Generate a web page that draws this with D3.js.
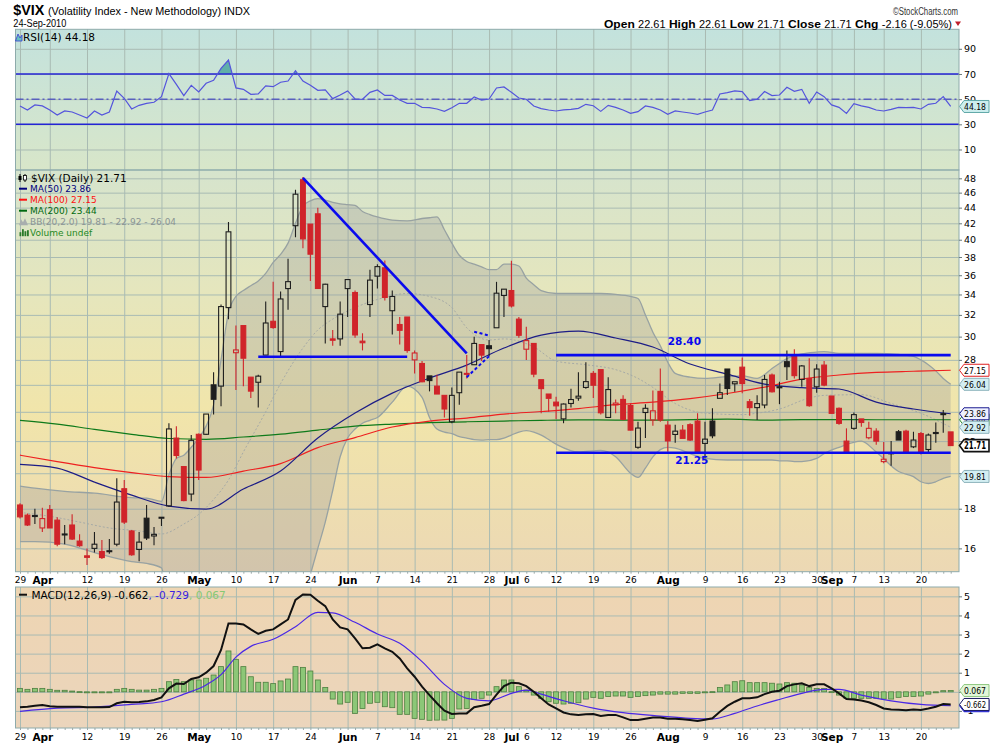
<!DOCTYPE html>
<html>
<head>
<meta charset="utf-8">
<script src="https://cdn.jsdelivr.net/npm/d3@7"></script>
<style>
body{margin:0;background:#fff;}
svg text{font-family:"DejaVu Sans",Verdana,sans-serif;}
.hdr{font-family:"Liberation Sans",Arial,sans-serif;}
</style>
</head>
<body>
<svg id="chart" width="990" height="744"></svg>
<script>
// ---------- data ----------
var monthDays=[
 ["2010-03",[29,30,31]],
 ["2010-04",[1,5,6,7,8,9,12,13,14,15,16,19,20,21,22,23,26,27,28,29,30]],
 ["2010-05",[3,4,5,6,7,10,11,12,13,14,17,18,19,20,21,24,25,26,27,28]],
 ["2010-06",[1,2,3,4,7,8,9,10,11,14,15,16,17,18,21,22,23,24,25,28,29,30]],
 ["2010-07",[1,2,6,7,8,9,12,13,14,15,16,19,20,21,22,23,26,27,28,29,30]],
 ["2010-08",[2,3,4,5,6,9,10,11,12,13,16,17,18,19,20,23,24,25,26,27,30,31]],
 ["2010-09",[1,2,3,7,8,9,10,13,14,15,16,17,20,21,22,23,24]]
]
var days=[]
monthDays.forEach(function(m){m[1].forEach(function(d){days.push(m[0]+"-"+(d<10?"0"+d:d))})})

var prevClose0=17.77
var openV=[
18.20,17.66,17.62,17.00,17.95,17.40,16.66,17.15,16.35,15.65,
16.00,15.85,15.85,16.20,19.10,16.85,15.95,17.50,16.60,17.50,
18.15,22.20,20.40,18.80,22.45,22.45,26.00,25.90,32.70,28.60,
31.00,26.60,26.20,28.40,31.40,28.70,34.60,41.70,47.80,41.90,
43.20,32.80,29.80,29.80,34.60,34.20,29.60,33.00,35.90,36.80,
32.40,31.10,31.80,28.00,27.70,26.70,25.90,25.20,23.30,25.40,
26.85,27.60,29.30,29.20,30.80,33.90,34.40,31.60,28.90,29.40,
26.40,25.30,24.70,23.50,24.60,25.00,25.80,26.90,27.20,23.60,
24.50,24.90,24.45,21.60,23.95,23.42,25.50,23.07,22.44,22.73,
23.10,23.35,21.85,23.35,24.98,27.25,26.08,27.40,24.73,24.30,
24.49,26.77,25.80,27.85,28.27,26.42,26.50,25.85,27.57,25.15,
24.25,22.00,22.85,23.50,22.22,22.66,20.70,21.20,22.62,22.66,
21.63,22.50,21.46,22.50,23.80,22.61]
var highV=[
18.30,17.75,18.00,18.05,18.20,17.55,17.15,17.70,16.68,16.00,
16.80,16.40,16.45,19.70,19.60,16.90,16.80,18.20,17.05,17.55,
23.20,23.00,20.40,22.40,22.50,23.85,27.00,33.00,42.15,31.00,
31.00,26.60,26.80,33.30,35.30,34.30,37.80,46.40,48.20,41.90,
44.00,35.10,30.60,33.30,35.50,34.40,30.30,36.60,37.20,37.60,
34.40,31.80,31.80,28.80,27.90,26.70,26.80,25.20,25.80,27.00,
28.40,30.00,29.30,29.70,35.30,34.50,37.58,31.80,30.90,29.40,
26.40,25.30,25.10,24.60,25.70,27.00,27.80,27.10,27.20,26.60,
24.90,25.20,24.60,23.30,24.55,25.57,27.30,23.35,23.10,23.07,
23.20,23.90,23.30,24.25,26.10,27.25,26.24,28.20,24.93,25.20,
26.77,26.90,26.24,28.80,28.90,27.57,28.13,27.64,27.90,25.15,
24.30,22.85,23.95,23.50,23.30,22.85,21.95,22.00,22.73,22.75,
22.62,22.60,22.50,23.25,24.12,22.61]
var lowV=[
17.48,17.10,17.20,16.80,17.00,16.10,16.20,16.40,16.08,15.23,
15.80,15.50,15.75,16.10,17.20,15.65,15.40,16.40,16.15,17.10,
18.10,20.90,18.40,18.40,19.60,22.40,23.80,24.40,31.60,25.60,
25.90,25.00,24.30,28.40,30.70,28.20,32.50,40.30,39.00,35.40,
34.60,29.40,29.20,29.20,31.80,29.90,28.80,31.80,34.60,33.40,
30.20,29.30,28.60,26.90,26.20,25.50,25.30,23.60,23.20,24.50,
26.50,27.60,27.90,28.30,30.80,31.80,32.70,29.90,28.00,26.60,
23.90,24.00,23.50,23.20,24.30,24.80,25.70,25.00,23.80,23.60,
23.90,23.40,22.70,21.50,22.20,23.02,23.30,21.32,21.90,22.18,
22.00,21.20,20.90,22.18,24.98,25.22,25.47,25.35,23.72,23.42,
24.25,25.42,24.55,26.37,26.50,25.85,24.37,25.40,25.90,23.87,
23.10,21.25,22.75,22.96,22.13,21.76,20.60,20.45,22.07,21.28,
21.55,21.15,21.30,21.90,22.55,21.71]
var closeV=[
17.57,17.15,17.64,17.48,17.00,16.20,16.70,16.45,16.13,15.58,
16.20,15.57,15.89,18.36,17.30,15.70,16.30,16.50,16.68,17.55,
22.81,21.08,18.44,22.05,20.19,23.84,24.91,32.80,40.95,28.84,
28.14,25.52,26.68,31.24,30.82,33.55,35.32,45.79,40.10,38.32,
34.61,35.05,29.68,32.07,35.54,30.15,29.46,35.48,36.93,33.70,
33.80,30.57,28.79,28.58,26.24,26.33,25.30,24.20,25.20,27.00,
26.90,29.40,28.40,28.95,34.13,34.54,32.86,30.12,29.65,26.84,
25.71,24.98,24.43,24.56,24.89,25.14,26.25,25.97,23.93,25.64,
24.63,23.47,22.73,22.87,24.25,24.07,23.42,22.01,22.66,22.18,
22.07,21.28,22.13,22.35,25.40,25.72,26.24,26.10,24.30,24.59,
26.42,25.47,25.85,27.44,26.72,27.50,24.44,27.25,25.98,23.89,
23.19,21.31,23.80,23.25,22.85,22.00,20.85,21.25,22.07,21.28,
22.07,21.21,22.40,22.57,23.87,21.71]

var rsi=[
44.6,41.4,45.4,44.6,41.4,37.4,40.6,39.8,37.4,35.0,
40.6,37.4,39.8,56.5,50.7,42.2,45.1,46.7,47.5,52.0,
70.3,61.8,52.8,61.0,55.7,62.6,65.0,74.5,81.1,58.9,
57.8,53.8,54.1,60.5,59.9,63.4,64.4,72.6,64.4,61.0,
57.0,57.3,50.4,53.3,56.5,50.1,49.9,55.4,57.3,53.0,
53.0,49.3,46.7,46.7,43.5,43.2,42.2,40.3,43.2,46.7,
46.7,51.7,49.3,50.1,58.9,59.7,55.4,50.9,49.9,44.6,
42.5,41.4,40.6,41.4,41.9,42.7,45.9,44.8,40.3,45.1,
43.5,41.4,38.7,40.1,44.6,43.5,41.4,37.9,40.6,39.8,
39.0,37.9,39.8,41.4,54.1,55.2,56.5,56.0,48.8,49.9,
56.0,52.8,53.3,59.4,56.2,57.8,46.7,55.7,52.0,45.4,
43.5,38.7,46.4,44.6,43.5,41.4,40.6,41.9,43.5,43.2,
43.5,42.2,45.9,46.7,52.0,44.18]

var macd=[
-0.81,-0.78,-0.73,-0.69,-0.75,-0.78,-0.78,-0.78,-0.78,-0.81,
-0.81,-0.81,-0.80,-0.60,-0.52,-0.55,-0.53,-0.50,-0.43,-0.29,
0.18,0.43,0.41,0.67,0.76,1.00,1.35,2.19,3.58,3.58,
3.53,3.27,3.03,3.20,3.27,3.53,3.79,4.81,5.10,5.08,
4.77,4.49,3.79,3.37,3.27,2.80,2.28,2.31,2.49,2.28,
2.10,1.75,1.23,0.79,0.27,-0.17,-0.60,-0.99,-1.16,-1.13,
-1.13,-0.81,-0.73,-0.64,-0.15,0.30,0.48,0.45,0.30,0.00,
-0.34,-0.66,-0.87,-1.08,-1.18,-1.21,-1.18,-1.16,-1.27,-1.21,
-1.21,-1.34,-1.48,-1.48,-1.41,-1.35,-1.34,-1.41,-1.41,-1.44,
-1.48,-1.53,-1.46,-1.39,-1.04,-0.74,-0.52,-0.34,-0.34,-0.29,
-0.12,0.00,0.06,0.30,0.39,0.45,0.30,0.39,0.39,0.18,
-0.08,-0.38,-0.40,-0.46,-0.55,-0.69,-0.87,-0.92,-0.94,-0.97,
-0.92,-0.95,-0.87,-0.78,-0.64,-0.662]
var macdHist=[
0.18,0.13,0.18,0.18,0.13,0.08,0.08,0.04,0.01,0.00,
-0.01,-0.01,-0.01,0.13,0.18,0.13,0.09,0.09,0.13,0.18,
0.53,0.65,0.53,0.62,0.62,0.71,0.88,1.32,2.14,1.70,
1.32,0.79,0.50,0.50,0.43,0.57,0.67,1.32,1.28,1.09,
0.62,0.23,-0.38,-0.64,-0.55,-1.13,-0.87,-0.60,-0.55,-0.78,
-0.83,-1.18,-1.18,-1.39,-1.44,-1.49,-1.48,-1.48,-1.39,-0.90,
-0.87,-0.40,-0.34,-0.17,0.27,0.62,0.62,0.27,0.09,-0.17,
-0.34,-0.52,-0.60,-0.64,-0.60,-0.57,-0.38,-0.29,-0.34,-0.25,
-0.22,-0.22,-0.29,-0.25,-0.20,-0.17,-0.12,-0.12,-0.12,-0.08,
-0.08,-0.08,-0.05,0.01,0.23,0.36,0.53,0.58,0.48,0.48,
0.48,0.45,0.41,0.48,0.45,0.36,0.23,0.18,0.18,0.01,
-0.17,-0.34,-0.34,-0.34,-0.34,-0.34,-0.38,-0.38,-0.29,-0.25,
-0.25,-0.22,-0.12,-0.05,0.06,0.067]
var sigIdx=[0,5,10,15,19,22,25,27,29,31,34,37,40,42,45,48,51,54,57,60,63,66,68,70,73,77,81,86,90,93,96,99,102,105,108,110,113,117,121,125]
var macdSignal=[-1.02,-0.85,-0.80,-0.66,-0.52,-0.12,0.36,0.90,1.82,2.38,2.75,3.41,4.16,4.13,3.64,3.03,2.54,1.58,0.39,-0.34,
-0.47,-0.08,0.09,-0.12,-0.47,-0.85,-1.09,-1.27,-1.39,-1.42,-1.13,-0.74,-0.40,-0.08,0.13,0.13,-0.17,-0.47,-0.66,-0.729]

var maIdx=[0,5,10,15,20,25,30,35,40,45,50,55,60,65,70,75,80,85,90,95,100,105,110,115,120,125]
var ma50=[20.53,20.31,19.48,18.74,18.14,17.98,19.08,20.13,22.20,23.91,25.37,26.53,27.57,29.00,30.14,30.50,29.88,29.09,27.66,26.84,26.06,25.78,25.68,24.70,24.20,23.86]
var ma100=[21.10,20.70,20.34,20.04,19.80,19.75,20.13,20.58,21.58,22.23,22.94,23.35,23.56,23.84,24.02,24.23,24.51,24.70,24.96,25.34,25.83,26.45,26.77,26.98,27.07,27.15]
var ma200=[23.40,23.14,22.78,22.45,22.17,22.12,22.27,22.46,22.73,23.00,23.14,23.24,23.30,23.35,23.40,23.43,23.42,23.42,23.45,23.48,23.42,23.45,23.45,23.44,23.44,23.44]

var bbIdx=[0,2,6,10,15,17,19,20,21,22,
 23,24,25,26,27,28,29,30,31,32,
 33,34,35,36,37,38,39,40,41,42,
 43,44,45,46,47,48,50,52,54,55,
 56,57,58,59,60,61,62,63,64,65,
 66,67,68,69,70,72,75,78,80,82,
 83,84,85,86,87,88,90,92,95,97,
 99,100,101,102,103,104,105,107,108,110,
 113,115,118,120,121,122,123,124,125]
var bbUpper=[19.25,19.13,18.95,18.85,18.60,18.57,18.40,19.90,20.90,21.10,
 21.60,22.20,23.00,24.50,28.00,32.20,33.80,34.40,34.90,35.40,
 36.20,37.40,38.30,39.60,42.00,44.20,44.90,45.20,45.00,44.70,
 44.50,44.40,44.30,43.50,43.10,42.80,42.40,42.30,42.60,42.70,
 42.80,41.20,39.60,38.20,37.50,37.20,36.90,36.60,36.60,37.20,
 37.20,37.00,35.70,35.00,34.40,34.10,34.10,34.10,34.00,33.80,
 33.60,32.00,30.40,29.20,27.80,26.90,26.60,26.50,26.65,26.70,
 26.50,26.80,27.30,27.70,28.10,28.35,28.50,28.65,28.70,28.55,
 28.55,28.55,28.45,28.30,28.00,27.60,27.10,26.50,26.04]
var bbLower=[16.32,16.32,16.20,15.80,15.38,15.30,15.10,13.30,12.50,12.80,
 12.40,12.50,12.80,11.50,9.50,7.50,7.00,7.40,8.50,10.00,
 11.00,12.00,13.00,13.50,13.30,13.60,14.80,16.00,17.30,19.00,
 21.00,22.20,22.80,23.20,23.40,23.60,24.70,25.90,25.05,23.60,
 22.80,22.60,22.50,22.30,22.20,22.10,22.07,22.10,22.10,22.20,
 22.40,22.60,22.70,22.60,22.40,21.80,21.30,21.40,21.00,20.00,
 19.75,20.30,21.00,21.45,21.60,21.55,21.20,20.90,20.80,20.80,
 20.80,20.80,20.80,20.75,20.75,20.70,20.70,20.90,21.20,21.60,
 22.00,21.30,20.10,19.80,19.50,19.40,19.50,19.70,19.81]
var bbMidIdx=[0,4,8,12,16,19,22,24,26,28,30,33,35,38,40,42,45,49,52,55,58,60,63,65,69,72,76,80,83,85,88,92,97,99,102,106,108,113,117,121,125]
var bbMid=[17.8,17.6,17.3,17.0,16.85,16.7,17.2,17.7,18.5,19.6,21.3,24.0,26.1,29.0,30.6,31.6,32.7,33.7,34.1,33.8,32.7,30.8,29.7,29.8,29.1,27.9,27.6,27.2,26.5,25.8,24.6,23.9,23.8,23.9,24.2,25.0,25.2,25.25,24.6,23.9,22.92]

// trendlines: start day, price, end day, price, dashed
var trendLines=[
 ["2010-05-13",28.26,"2010-06-11",28.26,0],
 ["2010-05-21",48.06,"2010-06-23",28.55,0],
 ["2010-06-23",26.6,"2010-06-28",28.3,1],
 ["2010-06-24",30.44,"2010-06-28",30.1,1],
 ["2010-07-12",28.40,"2010-09-24",28.40,0],
 ["2010-07-12",21.25,"2010-09-24",21.25,0]
]
var trendLabels=[["2010-08-02",29.55,"28.40"],["2010-08-03",20.8,"21.25"]]

var xTickDates=["2010-03-29","2010-04-01","2010-04-12","2010-04-19","2010-04-26","2010-05-03","2010-05-10","2010-05-17","2010-05-24","2010-06-01","2010-06-07","2010-06-14","2010-06-21","2010-06-28","2010-07-01","2010-07-06","2010-07-12","2010-07-19","2010-07-26","2010-08-02","2010-08-09","2010-08-16","2010-08-23","2010-08-30","2010-09-01","2010-09-07","2010-09-13","2010-09-20"]
var xTickLabels=["29","Apr","12","19","26","May","10","17","24","Jun","7","14","21","28","Jul","6","12","19","26","Aug","9","16","23","30","Sep","7","13","20"]
var gridDates=["2010-03-29","2010-04-05","2010-04-12","2010-04-19","2010-04-26","2010-05-03","2010-05-10","2010-05-17","2010-05-24","2010-06-01","2010-06-07","2010-06-14","2010-06-21","2010-06-28","2010-07-01","2010-07-12","2010-07-19","2010-07-26","2010-08-02","2010-08-09","2010-08-16","2010-08-23","2010-08-30","2010-09-01","2010-09-07","2010-09-13","2010-09-20"]
var priceTicks=[16,18,20,22,24,26,28,30,32,34,36,38,40,42,44,46,48]
var rsiTicks=[10,30,50,70,90]
var macdTicks=[-1,0,1,2,3,4,5]

// ---------- layout ----------
var svg=d3.select("#chart")
var PL=15.5,PR=959
var rsiTop=29.3,rsiBot=170,mainTop=170,mainBot=571.7,macdTop=587,macdBot=728

var x=d3.scaleLinear().domain([0,days.length-1]).range([20,950.7])
var yP=d3.scaleLog().domain([14.93,49.2]).range([mainBot,mainTop])
var yR=d3.scaleLinear().domain([-6.3,105.5]).range([rsiBot,rsiTop])
var yM=d3.scaleLinear().domain([-1.895,5.49]).range([macdBot,macdTop])
function di(d){return days.indexOf(d)}

var defs=svg.append("defs")
function grad(id,stops){
  var g=defs.append("linearGradient").attr("id",id).attr("x1",0).attr("y1",0).attr("x2",0).attr("y2",1)
  stops.forEach(function(s){g.append("stop").attr("offset",s[0]).attr("stop-color",s[1])})
}
grad("gRsi",[[0,"#c3e2dd"],[1,"#d8e6c9"]])
grad("gMain",[[0,"#d6e4cd"],[0.3,"#e5e6bd"],[0.6,"#f1e5aa"],[1,"#ecd8b4"]])
grad("gMacd",[[0,"#eed5b2"],[1,"#ebd5bc"]])
function clip(id,top,bot){
  defs.append("clipPath").attr("id",id).append("rect").attr("x",PL).attr("y",top).attr("width",PR-PL).attr("height",bot-top)
}
clip("cRsi",rsiTop,rsiBot); clip("cMain",mainTop,mainBot); clip("cMacd",macdTop,macdBot)
clip("cAbove70",rsiTop,yR(70))

// panel backgrounds
;[[rsiTop,rsiBot,"gRsi"],[mainTop,mainBot,"gMain"],[macdTop,macdBot,"gMacd"]].forEach(function(p){
  svg.append("rect").attr("x",PL).attr("y",p[0]).attr("width",PR-PL).attr("height",p[1]-p[0]).attr("fill","url(#"+p[2]+")")
})

// grid lines
var gridIdx=gridDates.map(di)
function hGrid(scale,vals){
  svg.append("g").attr("class","grid").attr("transform","translate("+PL+",0)")
    .call(d3.axisLeft(scale).tickValues(vals).tickSize(-(PR-PL)).tickFormat(""))
}
function vGrid(top,bot){
  svg.append("g").attr("class","grid").attr("transform","translate(0,"+bot+")")
    .call(d3.axisBottom(x).tickValues(gridIdx).tickSize(-(bot-top)).tickFormat(""))
}
hGrid(yR,rsiTicks); vGrid(rsiTop,rsiBot)
hGrid(yP,priceTicks); vGrid(mainTop,mainBot)
hGrid(yM,macdTicks); vGrid(macdTop,macdBot)
svg.selectAll(".grid .domain").remove()
svg.selectAll(".grid line").attr("stroke","#a9bbb3").attr("stroke-width",1)

// ---------- RSI panel ----------
var gR=svg.append("g").attr("clip-path","url(#cRsi)")
gR.append("path").datum(rsi).attr("clip-path","url(#cAbove70)")
  .attr("fill","#3c9e9a").attr("fill-opacity",0.75)
  .attr("d",d3.area().x(function(d,i){return x(i)}).y0(yR(70)).y1(function(d){return yR(d)}))
;[70,30].forEach(function(v){
  gR.append("line").attr("x1",PL).attr("x2",PR).attr("y1",yR(v)).attr("y2",yR(v)).attr("stroke","#2424d4").attr("stroke-width",1.4)
})
gR.append("line").attr("x1",PL).attr("x2",PR).attr("y1",yR(50)).attr("y2",yR(50)).attr("stroke","#2a2ac0").attr("stroke-width",1).attr("stroke-dasharray","8,3,2,3")
gR.append("path").datum(rsi).attr("fill","none").attr("stroke","#5454dc").attr("stroke-width",1.2)
  .attr("d",d3.line().x(function(d,i){return x(i)}).y(function(d){return yR(d)}))

// ---------- main panel ----------
var gM=svg.append("g").attr("clip-path","url(#cMain)")
gM.append("path").datum(bbIdx).attr("fill","#9c9c9c").attr("fill-opacity",0.32).attr("stroke","none")
  .attr("d",d3.area().curve(d3.curveMonotoneX).x(function(d){return x(d)})
    .y0(function(d,k){return yP(bbLower[k])}).y1(function(d,k){return yP(bbUpper[k])}))
function seriesLine(idx,vals,color,width,dash){
  var p=gM.append("path").datum(idx).attr("fill","none").attr("stroke",color).attr("stroke-width",width)
    .attr("d",d3.line().curve(d3.curveMonotoneX).x(function(d){return x(d)}).y(function(d,k){return yP(vals[k])}))
  if(dash) p.attr("stroke-dasharray",dash)
  return p
}
seriesLine(bbIdx,bbUpper,"#98a2a2",1.3)
seriesLine(bbIdx,bbLower,"#98a2a2",1.3)
seriesLine(bbMidIdx,bbMid,"#a6aaa6",1,"2,2")
seriesLine(maIdx,ma200,"#0e7a1a",1.2)
seriesLine(maIdx,ma100,"#ee2020",1.2)
seriesLine(maIdx,ma50,"#1c1c86",1.2)

// candles
var bw=4.8
var cg=gM.append("g")
days.forEach(function(d,i){
  var o=openV[i],c=closeV[i],h=highV[i],l=lowV[i]
  var prev=i>0?closeV[i-1]:prevClose0
  var col=c>=prev?"#1e1e1e":"#d0242a"
  var hollow=c>o
  var top=yP(Math.max(o,c)),bot=yP(Math.min(o,c))
  if(bot-top<1){bot=top+1}
  var cx=x(i)
  cg.append("line").attr("x1",cx).attr("x2",cx).attr("y1",yP(h)).attr("y2",top).attr("stroke",col).attr("stroke-width",1.1)
  cg.append("line").attr("x1",cx).attr("x2",cx).attr("y1",bot).attr("y2",yP(l)).attr("stroke",col).attr("stroke-width",1.1)
  cg.append("rect").attr("x",cx-bw/2).attr("y",top).attr("width",bw).attr("height",bot-top)
    .attr("fill",hollow?"none":col).attr("stroke",col).attr("stroke-width",1.1)
})

// trendlines
trendLines.forEach(function(t){
  var ln=gM.append("line").attr("x1",x(di(t[0]))).attr("y1",yP(t[1])).attr("x2",x(di(t[2]))).attr("y2",yP(t[3]))
    .attr("stroke","#0a0aee").attr("stroke-width",t[4]?2:2.6)
  if(t[4]) ln.attr("stroke-dasharray","3,2.5")
})
trendLabels.forEach(function(t){
  gM.append("text").attr("x",x(di(t[0]))).attr("y",yP(t[1])).attr("dy","0.35em")
    .attr("font-size",10.5).attr("font-weight","bold").attr("fill","#0a0aee").text(t[2])
})

// ---------- MACD panel ----------
var gC=svg.append("g").attr("clip-path","url(#cMacd)")
gC.selectAll("rect.h").data(macdHist).enter().append("rect")
  .attr("x",function(d,i){return x(i)-2.5}).attr("width",5)
  .attr("y",function(d){return Math.min(yM(d),yM(0))})
  .attr("height",function(d){return Math.max(1,Math.abs(yM(d)-yM(0)))})
  .attr("fill","#8cc777").attr("stroke","#4e7f40").attr("stroke-width",0.8)
gC.append("path").datum(sigIdx).attr("fill","none").attr("stroke","#4a28e6").attr("stroke-width",1.2)
  .attr("d",d3.line().curve(d3.curveMonotoneX).x(function(d){return x(d)}).y(function(d,k){return yM(macdSignal[k])}))
gC.append("path").datum(macd).attr("fill","none").attr("stroke","#111").attr("stroke-width",2)
  .attr("d",d3.line().x(function(d,i){return x(i)}).y(function(d){return yM(d)}))

// panel borders
;[[rsiTop,rsiBot],[mainTop,mainBot],[macdTop,macdBot]].forEach(function(p){
  svg.append("rect").attr("x",PL).attr("y",p[0]).attr("width",PR-PL).attr("height",p[1]-p[0]).attr("fill","none").attr("stroke","#8eabab").attr("stroke-width",1)
})

// day ticks along the bottoms
;[mainBot,macdBot].forEach(function(b){
  var g=svg.append("g").attr("transform","translate(0,"+b+")")
    .call(d3.axisBottom(x).tickValues(d3.range(days.length)).tickSize(2).tickFormat(""))
  g.select(".domain").remove(); g.selectAll("line").attr("stroke","#9aa8a8")
})

// ---------- axes ----------
function styleAxis(g,size){
  g.select(".domain").remove()
  g.selectAll("text").attr("font-size",size).attr("font-family","DejaVu Sans, Verdana, sans-serif").attr("fill","#000")
  g.selectAll("line").attr("stroke","#6a7a7a")
}
var fmtInt=function(v){return String(v)}
styleAxis(svg.append("g").attr("transform","translate("+PR+",0)")
  .call(d3.axisRight(yR).tickValues(rsiTicks).tickFormat(fmtInt).tickSize(3).tickPadding(2)),9.5)
styleAxis(svg.append("g").attr("transform","translate("+PR+",0)")
  .call(d3.axisRight(yP).tickValues(priceTicks).tickFormat(fmtInt).tickSize(3).tickPadding(2)),9.5)
styleAxis(svg.append("g").attr("transform","translate("+PR+",0)")
  .call(d3.axisRight(yM).tickValues(macdTicks).tickFormat(fmtInt).tickSize(3).tickPadding(2)),9.5)

var xTickIdx=xTickDates.map(di)
function xLabels(yPos,pad){
  var g=svg.append("g").attr("transform","translate(0,"+yPos+")")
    .call(d3.axisBottom(x).tickValues(xTickIdx).tickSize(0).tickPadding(pad).tickFormat(function(d,k){return xTickLabels[k]}))
  styleAxis(g,9)
  g.selectAll("text").filter(function(d,k){return isNaN(+xTickLabels[k])})
    .attr("font-weight","bold").attr("font-size",10.5)
}
xLabels(mainBot,4.8)
xLabels(macdBot,5.6)

// ---------- value flags ----------
function f2(v){return v.toFixed(2)}
function f3(v){return v.toFixed(3)}
function flag(v,scale,txt,fill,stroke,bold){
  var yv=scale(v),g=svg.append("g")
  g.append("path").attr("d","M"+(PR+0.5)+","+yv+"L"+(PR+5)+","+(yv-6)+"L989,"+(yv-6)+"L989,"+(yv+6)+"L"+(PR+5)+","+(yv+6)+"Z")
    .attr("fill",fill).attr("stroke",stroke).attr("stroke-width",bold?1.6:1)
  var t=g.append("text").attr("x",PR+5).attr("y",yv).attr("dy","0.36em").attr("font-size",bold?10.5:9.5)
    .attr("font-weight",bold?"bold":"normal").attr("fill","#000").text(txt)
  var room=989-(PR+5)-3
  if(txt && t.node().getComputedTextLength()>room) t.attr("textLength",room).attr("lengthAdjust","spacingAndGlyphs")
}
var lastClose=closeV[closeV.length-1]
flag(rsi[rsi.length-1],yR,f2(rsi[rsi.length-1]),"#cdeeee","#5fa8a8")
flag(ma100[ma100.length-1],yP,f2(ma100[ma100.length-1]),"#ffffff","#e02020")
flag(bbUpper[bbUpper.length-1],yP,f2(bbUpper[bbUpper.length-1]),"#d3eef2","#8eb4bc")
flag(ma200[ma200.length-1],yP,f2(ma200[ma200.length-1]),"#f4fff4","#2a8a2a")
flag(ma50[ma50.length-1],yP,f2(ma50[ma50.length-1]),"#eef0ff","#1a1a90")
flag(bbMid[bbMid.length-1],yP,f2(bbMid[bbMid.length-1]),"#d3eef2","#8eb4bc")
flag(bbLower[bbLower.length-1],yP,f2(bbLower[bbLower.length-1]),"#d3eef2","#8eb4bc")
flag(lastClose,yP,f2(lastClose),"#ffffff","#111",true)
flag(macdSignal[macdSignal.length-1],yM,"","#2a2ad0","#2a2ad0")
flag(macdHist[macdHist.length-1],yM,f3(macdHist[macdHist.length-1]),"#e2f6d8","#8fc880")
flag(macd[macd.length-1],yM,f3(macd[macd.length-1]),"#ffffff","#1a1a60")

// ---------- legends ----------
// RSI
svg.append("path").attr("d","M15.5,41L18,34L20,38L22,35L22,41Z").attr("fill","#66c0c0").attr("stroke","#3a3ad0").attr("stroke-width",0.8)
svg.append("text").attr("x",23).attr("y",41).attr("font-size",10.5).attr("fill","#000").text("RSI(14) "+f2(rsi[rsi.length-1]))

// main
var lg=svg.append("g")
lg.append("line").attr("x1",20).attr("x2",20).attr("y1",174).attr("y2",182).attr("stroke","#000")
lg.append("rect").attr("x",18.5).attr("y",176).attr("width",3).attr("height",4).attr("fill","#000")
lg.append("line").attr("x1",25).attr("x2",25).attr("y1",174).attr("y2",182).attr("stroke","#000")
lg.append("rect").attr("x",23.5).attr("y",175.5).attr("width",3).attr("height",4.5).attr("fill","#fff").attr("stroke","#000").attr("stroke-width",0.8)
lg.append("text").attr("x",31).attr("y",181.5).attr("font-size",10.5).attr("fill","#000").text("$VIX (Daily) "+f2(lastClose))
var legendRows=[
  ["MA(50) "+f2(ma50[ma50.length-1]),"#00007e"],
  ["MA(100) "+f2(ma100[ma100.length-1]),"#ff1010"],
  ["MA(200) "+f2(ma200[ma200.length-1]),"#006a10"],
  ["BB(20,2.0) "+f2(bbLower[bbLower.length-1])+" - "+f2(bbMid[bbMid.length-1])+" - "+f2(bbUpper[bbUpper.length-1]),"#8a9494"],
  ["Volume undef","#1f8a1f"]
]
legendRows.forEach(function(r,k){
  var yb=192.2+k*11
  if(k<3) lg.append("line").attr("x1",19).attr("x2",27).attr("y1",yb-3.5).attr("y2",yb-3.5).attr("stroke",r[1]).attr("stroke-width",2)
  if(k==3) lg.append("path").attr("d","M19,"+yb+"L21,"+(yb-6)+"L23,"+(yb-3)+"L25,"+(yb-7)+"L28,"+yb+"Z").attr("fill","#a8aeae")
  if(k==4){[19.5,22,24.5,27].forEach(function(bx,j){lg.append("rect").attr("x",bx).attr("y",yb-[4,7,5,6][j]).attr("width",1.8).attr("height",[4,7,5,6][j]).attr("fill","#2a7a2a")})}
  lg.append("text").attr("x",30).attr("y",yb).attr("font-size",9).attr("fill",r[1]).text(r[0])
})

// MACD
svg.append("line").attr("x1",19).attr("x2",27).attr("y1",594.7).attr("y2",594.7).attr("stroke","#111").attr("stroke-width",2)
var mt=svg.append("text").attr("x",31.5).attr("y",598.5).attr("font-size",10.5)
mt.append("tspan").attr("fill","#000").text("MACD(12,26,9) "+f3(macd[macd.length-1]))
mt.append("tspan").attr("fill","#3a22e0").text(", "+f3(macdSignal[macdSignal.length-1]))
mt.append("tspan").attr("fill","#86c874").text(", "+f3(macdHist[macdHist.length-1]))

// ---------- header ----------
var prevC=closeV[closeV.length-2],chg=lastClose-prevC
svg.append("text").attr("class","hdr").attr("x",13.3).attr("y",15).attr("font-size",14.5).attr("font-weight","bold")
  .attr("textLength",31).attr("lengthAdjust","spacingAndGlyphs").text("$VIX")
svg.append("text").attr("class","hdr").attr("x",48).attr("y",15).attr("font-size",11)
  .attr("textLength",202).attr("lengthAdjust","spacingAndGlyphs").text("(Volatility Index - New Methodology) INDX")
svg.append("text").attr("class","hdr").attr("x",13.3).attr("y",26.5).attr("font-size",10.5)
  .attr("textLength",53).attr("lengthAdjust","spacingAndGlyphs").text("24-Sep-2010")
svg.append("text").attr("class","hdr").attr("x",893).attr("y",15).attr("font-size",10).attr("fill","#333")
  .attr("textLength",65).attr("lengthAdjust","spacingAndGlyphs").text("\u00a9StockCharts.com")
var ht=svg.append("text").attr("class","hdr").attr("x",604).attr("y",28).attr("font-size",11.5)
  .attr("textLength",348).attr("lengthAdjust","spacingAndGlyphs")
;[["Open ",f2(openV[openV.length-1])],["High ",f2(highV[highV.length-1])],["Low ",f2(lowV[lowV.length-1])],["Close ",f2(lastClose)],["Chg ",f2(chg)+" ("+f2(chg/prevC*100)+"%)"]].forEach(function(p,k){
  ht.append("tspan").attr("font-weight","bold").text((k?"  ":"")+p[0])
  ht.append("tspan").attr("font-size",10.5).text(p[1])
})
svg.append("path").attr("d","M955,21.5L961,21.5L958,26Z").attr("fill","#c0202c")
</script>
</body>
</html>
